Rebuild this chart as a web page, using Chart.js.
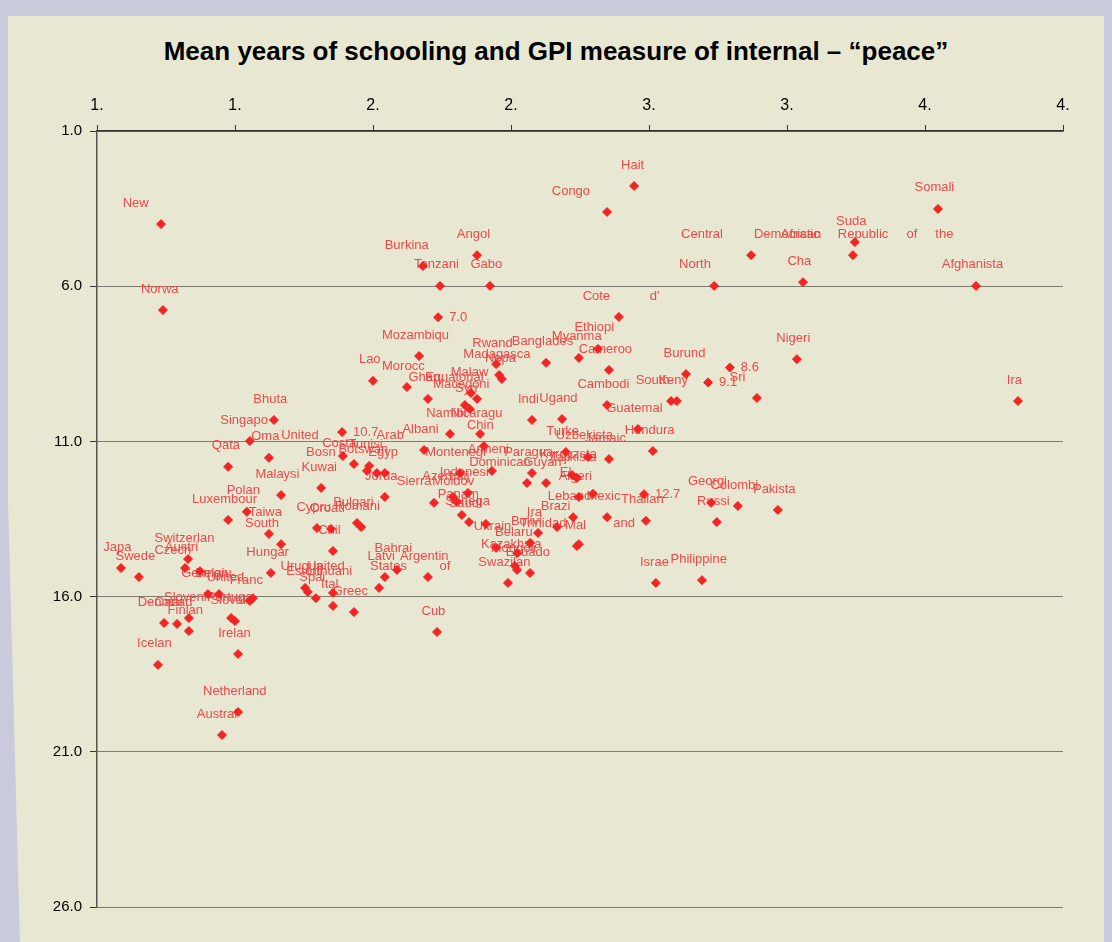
<!DOCTYPE html>
<html>
<head>
<meta charset="utf-8">
<script src="https://cdn.jsdelivr.net/npm/chart.js@4.4.0/dist/chart.umd.min.js"></script>
<style>
  html, body { margin: 0; padding: 0; background: #c9cbdc; }
  #wrap { position: relative; width: 1112px; height: 942px; overflow: hidden; }
  #panel { position: absolute; left: 8px; top: 16px; width: 1096px; height: 940px; background: #e8e8d2; }
  #wedge { position: absolute; left: 0; top: 0; width: 1112px; height: 942px; background: #c9cbdc;
           clip-path: polygon(8px 500px, 20px 942px, 8px 942px); }
  #title { position: absolute; left: 0; top: 36px; width: 1112px; text-align: center;
           font: bold 26px/30px "Liberation Sans", Arial, sans-serif; color: #000; }
  canvas { position: absolute; left: 0; top: 0; }
</style>
</head>
<body>
<div id="wrap">
  <div id="panel"></div>
  <div id="wedge"></div>
  <div id="title">Mean years of schooling and GPI measure of internal – “peace”</div>
  <canvas id="gpiChart" width="1112" height="942"></canvas>
</div>
<script>
// country names (full name is used to centre the label, shown text is what appears)
const countries = [
  'New Zealand', 'Norway', 'Haiti', 'Congo, Republic of', 'Somalia', 'Sudan',
  'Democratic Republic of the Congo', 'Central African Republic', 'Angola', 'Burkina Faso',
  'Tanzania', 'Gabon', 'North Korea', 'Chad', 'Afghanistan', "Cote d'Ivoire", '',
  'Ethiopia', 'Cameroon', 'Myanmar', 'Mozambique', 'Rwanda', 'Madagascar', 'Nepal',
  'Bangladesh', 'Laos', 'Morocco', 'Ghana', 'Equatorial Guinea', 'Malawi', 'Macedonia',
  'Syria', 'Cambodia', 'Guatemala', 'Honduras', 'Burundi', 'South Africa', 'Kenya',
  'Sri Lanka', '', '', 'Nigeria', 'Iran', 'India', 'Uganda', 'Turkey', 'Uzbekistan',
  'Jamaica', 'Kyrgyzstan', 'Tajikistan', 'El Salvador', 'Algeria', 'Lebanon', 'Mexico',
  'Thailand', '', 'Brazil', 'Mali', 'Trinidad and Tobago', 'Georgia', 'Colombia',
  'Pakistan', 'Russia', 'Israel', 'Philippines', 'Bulgaria', 'Romania', 'Croatia',
  'Cyprus', 'Chile', 'Bahrain', 'Latvia', 'Argentina', 'United States of America',
  'Greece', 'Italy', 'Cuba', 'Lithuania', 'Uruguay', 'Estonia', 'Spain', 'Panama',
  'Senegal', 'Saudi Arabia', 'Indonesia', 'Azerbaijan', 'Moldova', 'Sierra Leone',
  'Jordan', 'Montenegro', 'Armenia', 'Dominican Republic', 'Paraguay', 'Guyana',
  'Albania', 'China', 'Namibia', 'Nicaragua', '', 'United Arab Emirates', 'Costa Rica',
  'Tunisia', 'Botswana', 'Bosnia and Herzegovina', 'Egypt', 'Kuwait', 'Malaysia',
  'Qatar', 'Singapore', 'Oman', 'Bhutan', 'Poland', 'Luxembourg', 'Taiwan',
  'South Korea', 'Hungary', 'Switzerland', 'Austria', 'Czech Republic', 'Japan',
  'Sweden', 'Germany', 'Belgium', 'United Kingdom', 'France', 'Slovenia', 'Portugal',
  'Slovakia', 'Denmark', 'Canada', 'Finland', 'Ireland', 'Iceland', 'Netherlands',
  'Australia', 'Kazakhstan', 'Mongolia', 'Ecuador', 'Swaziland', 'Ukraine', 'Belarus',
  'Bolivia', 'Iraq'
];

// text as it is printed next to each point (null = print the value instead)
const shown = [
  'New', 'Norwa', 'Hait', 'Congo', 'Somali', 'Suda',
  'Democratic     Republic     of     the', 'Central                African', 'Angol', 'Burkina',
  'Tanzani', 'Gabo', 'North', 'Cha', 'Afghanista', 'Cote           d\'', null,
  'Ethiopi', 'Cameroo', 'Myanma', 'Mozambiqu', 'Rwand', 'Madagasca', 'Nepa',
  'Banglades', 'Lao', 'Morocc', 'Ghan', 'Equatorial', 'Malaw', 'Macedoni',
  'Syri', 'Cambodi', 'Guatemal', 'Hondura', 'Burund', 'South', 'Keny',
  'Sri', null, null, 'Nigeri', 'Ira', 'Indi', 'Ugand', 'Turke', 'Uzbekista',
  'Jamaic', 'Kyrgyzsta', 'Tajikista', 'El', 'Algeri', 'Lebano', 'Mexic',
  'Thailan', null, 'Brazi', 'Mal', 'Trinidad             and', 'Georgi', 'Colombi',
  'Pakista', 'Russi', 'Israe', 'Philippine', 'Bulgari', 'Romani', 'Croati',
  'Cypru', 'Chil', 'Bahrai', 'Latvi', 'Argentin', 'United       States         of',
  'Greec', 'Ital', 'Cub', 'Lithuani', 'Urugua', 'Estoni', 'Spai', 'Panam',
  'Senega', 'Saudi', 'Indonesi', 'Azerbaij', 'Moldov', 'Sierra',
  'Jorda', 'Montenegr', 'Armeni', 'Dominican', 'Paragua', 'Guyan',
  'Albani', 'Chin', 'Namibi', 'Nicaragu', null, 'United                Arab', 'Costa',
  'Tunisi', 'Botswan', 'Bosn', 'Egyp', 'Kuwai', 'Malaysi',
  'Qata', 'Singapo', 'Oma', 'Bhuta', 'Polan', 'Luxembour', 'Taiwa',
  'South', 'Hungar', 'Switzerlan', 'Austri', 'Czech', 'Japa',
  'Swede', 'German', 'Belgiu', 'United', 'Franc', 'Sloveni', 'Portuga',
  'Slovaki', 'Denmar', 'Canad', 'Finlan', 'Irelan', 'Icelan', 'Netherland',
  'Austral', 'Kazakhsta', 'Mongoli', 'Ecuado', 'Swazilan', 'Ukrain', 'Belaru',
  'Bolivi', 'Ira'
];

// GPI internal peace measure (x)
const peaceScore = [
  1.232, 1.239, 2.946, 2.848, 4.047, 3.746,
  3.739, 3.370, 2.377, 2.181,
  2.243, 2.424, 3.236, 3.558, 4.185, 2.891, 2.236,
  2.815, 2.855, 2.746, 2.167, 2.446, 2.457, 2.467,
  2.627, 2.000, 2.123, 2.199, 2.377, 2.355, 2.333,
  2.351, 2.848, 2.960, 3.014, 3.134, 3.080, 3.101,
  3.391, 3.293, 3.214, 3.536, 4.337, 2.576, 2.685, 2.699, 2.779,
  2.855, 2.721, 2.739, 2.797, 2.746, 2.725, 2.848,
  2.989, 2.982, 2.667, 2.739, 2.746, 3.225, 3.322,
  3.467, 3.246, 3.025, 3.192, 1.942, 1.957, 1.848,
  1.797, 1.855, 2.087, 2.043, 2.199, 2.022,
  1.931, 1.855, 2.232, 1.855, 1.754, 1.764, 1.793, 2.322,
  2.348, 2.409, 2.344, 2.290, 2.304, 2.221,
  2.043, 2.315, 2.431, 2.558, 2.576, 2.627,
  2.185, 2.402, 2.279, 2.388, 1.888, 1.891, 1.931,
  1.986, 1.978, 2.014, 2.043, 1.812, 1.667,
  1.475, 1.554, 1.623, 1.641, 1.543, 1.475, 1.623,
  1.667, 1.630, 1.330, 1.319, 1.373, 1.087,
  1.152, 1.402, 1.442, 1.565, 1.554, 1.333, 1.486,
  1.500, 1.243, 1.290, 1.333, 1.511, 1.221, 1.511,
  1.453, 2.514, 2.522, 2.569, 2.489, 2.446, 2.522,
  2.569, 2.598
];

// mean years of schooling (y, reversed axis)
const schoolYears = [
  4.00, 6.77, 2.77, 3.61, 3.51, 4.58,
  5.00, 5.00, 5.00, 5.35,
  5.99, 5.99, 5.99, 5.87, 5.99, 6.99, 7.0,
  8.02, 8.70, 8.31, 8.25, 8.51, 8.86, 8.99,
  8.47, 9.05, 9.25, 9.63, 9.63, 9.44, 9.83,
  9.96, 9.83, 10.60, 11.31, 8.83, 9.70, 9.70,
  9.60, 8.62, 9.10, 8.35, 9.70, 10.31, 10.28, 11.34, 11.50,
  11.57, 12.08, 12.18, 12.69, 12.79, 13.44, 13.44,
  13.56, 12.70, 13.76, 14.37, 14.31, 12.98, 13.08,
  13.21, 13.60, 15.56, 15.47, 13.63, 13.76, 13.82,
  13.79, 14.53, 15.14, 15.37, 15.37, 15.72,
  16.50, 16.30, 17.14, 15.88, 15.72, 15.85, 16.05, 13.37,
  13.60, 13.66, 12.66, 12.79, 12.95, 12.98,
  12.79, 12.02, 11.95, 12.34, 12.02, 12.34,
  11.28, 11.15, 10.76, 10.76, 10.70, 11.47, 11.73,
  11.79, 11.95, 12.02, 12.02, 12.50, 12.73,
  11.82, 10.99, 11.53, 10.31, 13.27, 13.53, 13.98,
  14.31, 15.24, 14.79, 15.08, 15.18, 15.08,
  15.37, 15.92, 15.92, 16.05, 16.14, 16.69, 16.69,
  16.79, 16.85, 16.88, 17.11, 17.85, 18.20, 19.72,
  20.46, 15.01, 15.14, 15.24, 15.56, 14.43, 14.60,
  14.27, 13.95
];

const points = peaceScore.map((x, i) => ({ x: x, y: schoolYears[i] }));

// draw the country names above the points (before the diamonds, so they sit on top)
const countryLabels = {
  id: 'countryLabels',
  beforeDatasetsDraw(chart) {
    const ctx = chart.ctx;
    const meta = chart.getDatasetMeta(0);
    ctx.save();
    ctx.font = '13px "Liberation Sans", Arial, sans-serif';
    ctx.fillStyle = '#ee4848';
    ctx.textBaseline = 'middle';
    ctx.textAlign = 'left';
    meta.data.forEach((pt, i) => {
      if (shown[i] === null) {
        ctx.fillText(schoolYears[i].toFixed(1), pt.x + 11, pt.y);
      } else {
        const w = ctx.measureText(countries[i]).width;
        ctx.fillText(shown[i], pt.x - w / 2, pt.y - 21);
      }
    });
    ctx.restore();
  }
};

const ctx = document.getElementById('gpiChart').getContext('2d');
const gpiChart = new Chart(ctx, {
  type: 'scatter',
  data: {
    datasets: [{
      data: points,
      pointStyle: 'rectRot',
      pointRadius: 4.5,
      backgroundColor: '#f22424',
      borderColor: '#f22424',
      borderWidth: 1
    }]
  },
  options: {
    responsive: false,
    animation: false,
    layout: { padding: { left: 0, right: 49, top: 0, bottom: 35 } },
    plugins: {
      legend: { display: false },
      tooltip: { enabled: false }
    },
    scales: {
      x: {
        type: 'linear',
        position: 'top',
        min: 1,
        max: 4.5,
        afterFit: s => { s.height = 131; },
        ticks: {
          stepSize: 0.5,
          padding: 10,
          color: '#000',
          font: { family: '"Liberation Sans", Arial, sans-serif', size: 16 },
          callback: v => Math.floor(v) + '.'
        },
        grid: { drawOnChartArea: false, tickLength: 6, tickColor: '#333' },
        border: { color: '#333', width: 1.5 }
      },
      y: {
        reverse: true,
        min: 1,
        max: 26,
        afterFit: s => { s.width = 97; },
        ticks: {
          stepSize: 5,
          padding: 8,
          color: '#000',
          font: { family: '"Liberation Sans", Arial, sans-serif', size: 15 },
          callback: v => v.toFixed(1)
        },
        grid: { color: '#111', lineWidth: 1, tickLength: 7, tickColor: '#333', tickBorderDash: [] },
        border: { color: '#555', width: 1.5, dash: [1, 1] }
      }
    }
  },
  plugins: [countryLabels]
});
</script>
</body>
</html>
